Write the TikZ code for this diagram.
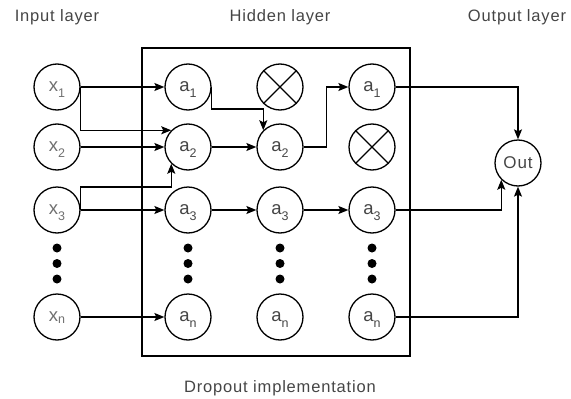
\documentclass[tikz,border=0pt]{standalone}
\usepackage{fontspec}
\setmainfont{Liberation Sans}[LetterSpace=5]
\usetikzlibrary{arrows.meta}
\definecolor{ink}{HTML}{454545}
\definecolor{softink}{HTML}{707070}
% letter with a lowered index that does not change the label's box
\newcommand\unitlbl[3][6pt]{#2\smash{\raisebox{-#1}{\fontsize{12.5}{12.5}\selectfont #3}}}
\begin{document}
\begin{tikzpicture}[x=1pt,y=-1pt,
  neuron/.style={circle, draw, line width=1.3pt, minimum size=46pt, inner sep=0pt,
    text=ink, font=\fontsize{18.5}{19}\selectfont},
  inunit/.style={neuron, text=softink},
  wire/.style={line width=1.3pt},
  link/.style={wire, -{Stealth[length=10pt,width=8pt,inset=2pt]}},
  dotmark/.style={circle, fill=black, minimum size=9pt, inner sep=0pt},
  heading/.style={text=ink, font=\fontsize{16.5}{17}\selectfont, inner sep=0pt}
]
\useasboundingbox (0,0) rectangle (571,399);

% frame around the hidden layers
\node (frame) [draw, line width=1.4pt, minimum width=268pt, minimum height=308pt,
  inner sep=0pt] at (276,202) {};

% headings
\node[heading] (hin)  at (57,17)  {Input layer};
\node[heading] (hhid) at (280,17) {Hidden layer};
\node[heading] (hout) at (517,17) {Output layer};
\node[heading] (cap)  at (280,388) {Dropout implementation};

% input layer
\node[inunit] (x1) at (57,87)  {\unitlbl{x}{1}};
\node[inunit] (x2) at (57,147) {\unitlbl{x}{2}};
\node[inunit] (x3) at (57,210) {\unitlbl{x}{3}};
\node[inunit] (xn) at (57,317) {\unitlbl[1.5pt]{x}{n}};

% first hidden column
\node[neuron] (a1) at (188,87)  {\unitlbl{a}{1}};
\node[neuron] (a2) at (188,147) {\unitlbl{a}{2}};
\node[neuron] (a3) at (188,210) {\unitlbl{a}{3}};
\node[neuron] (an) at (188,317) {\unitlbl{a}{n}};

% second hidden column
\node[neuron] (d1) at (280,87)  {};
\node[neuron] (b2) at (280,147) {\unitlbl{a}{2}};
\node[neuron] (b3) at (280,210) {\unitlbl{a}{3}};
\node[neuron] (bn) at (280,317) {\unitlbl{a}{n}};

% third hidden column
\node[neuron] (c1) at (372,87)  {\unitlbl{a}{1}};
\node[neuron] (d2) at (372,147) {};
\node[neuron] (c3) at (372,210) {\unitlbl{a}{3}};
\node[neuron] (cn) at (372,317) {\unitlbl{a}{n}};

% output unit
\node[neuron, font=\fontsize{17}{17}\selectfont] (out) at (518,163) {Out};

% dropped units
\foreach \u in {d1,d2}{
  \draw[wire] (\u.north west) -- (\u.south east);
  \draw[wire] (\u.north east) -- (\u.south west);
}

% vertical ellipses
\foreach \c/\xx in {0/57,1/188,2/280,3/372}{
  \node[dotmark] (dot\c a) at (\xx,248) {};
  \node[dotmark] (dot\c b) at (\xx,263.5) {};
  \node[dotmark] (dot\c c) at (\xx,279) {};
}

% input to first hidden column
\draw[link] (x1.east) -- (a1.west);
\draw[link] (x1.east) |- (a2.north west);
\draw[link] (x2.east) -- (a2.west);
\draw[link] (x3.east) -- ++(0,-23) -| (a2.south west);
\draw[link] (x3.east) -- (a3.west);
\draw[link] (xn.east) -- (an.west);

% first to second hidden column
\draw[link] (a1.east) -- ++(0,22) -| (b2.north west);
\draw[link] (a2.east) -- (b2.west);
\draw[link] (a3.east) -- (b3.west);

% second to third hidden column
\draw[link] (b2.east) -- ++(23,0) |- (c1.west);
\draw[link] (b3.east) -- (c3.west);

% third hidden column to output
\draw[link] (c1.east) -| (out.north);
\draw[link] (c3.east) -| (out.south west);
\draw[link] (cn.east) -| (out.south);
\end{tikzpicture}
\end{document}
